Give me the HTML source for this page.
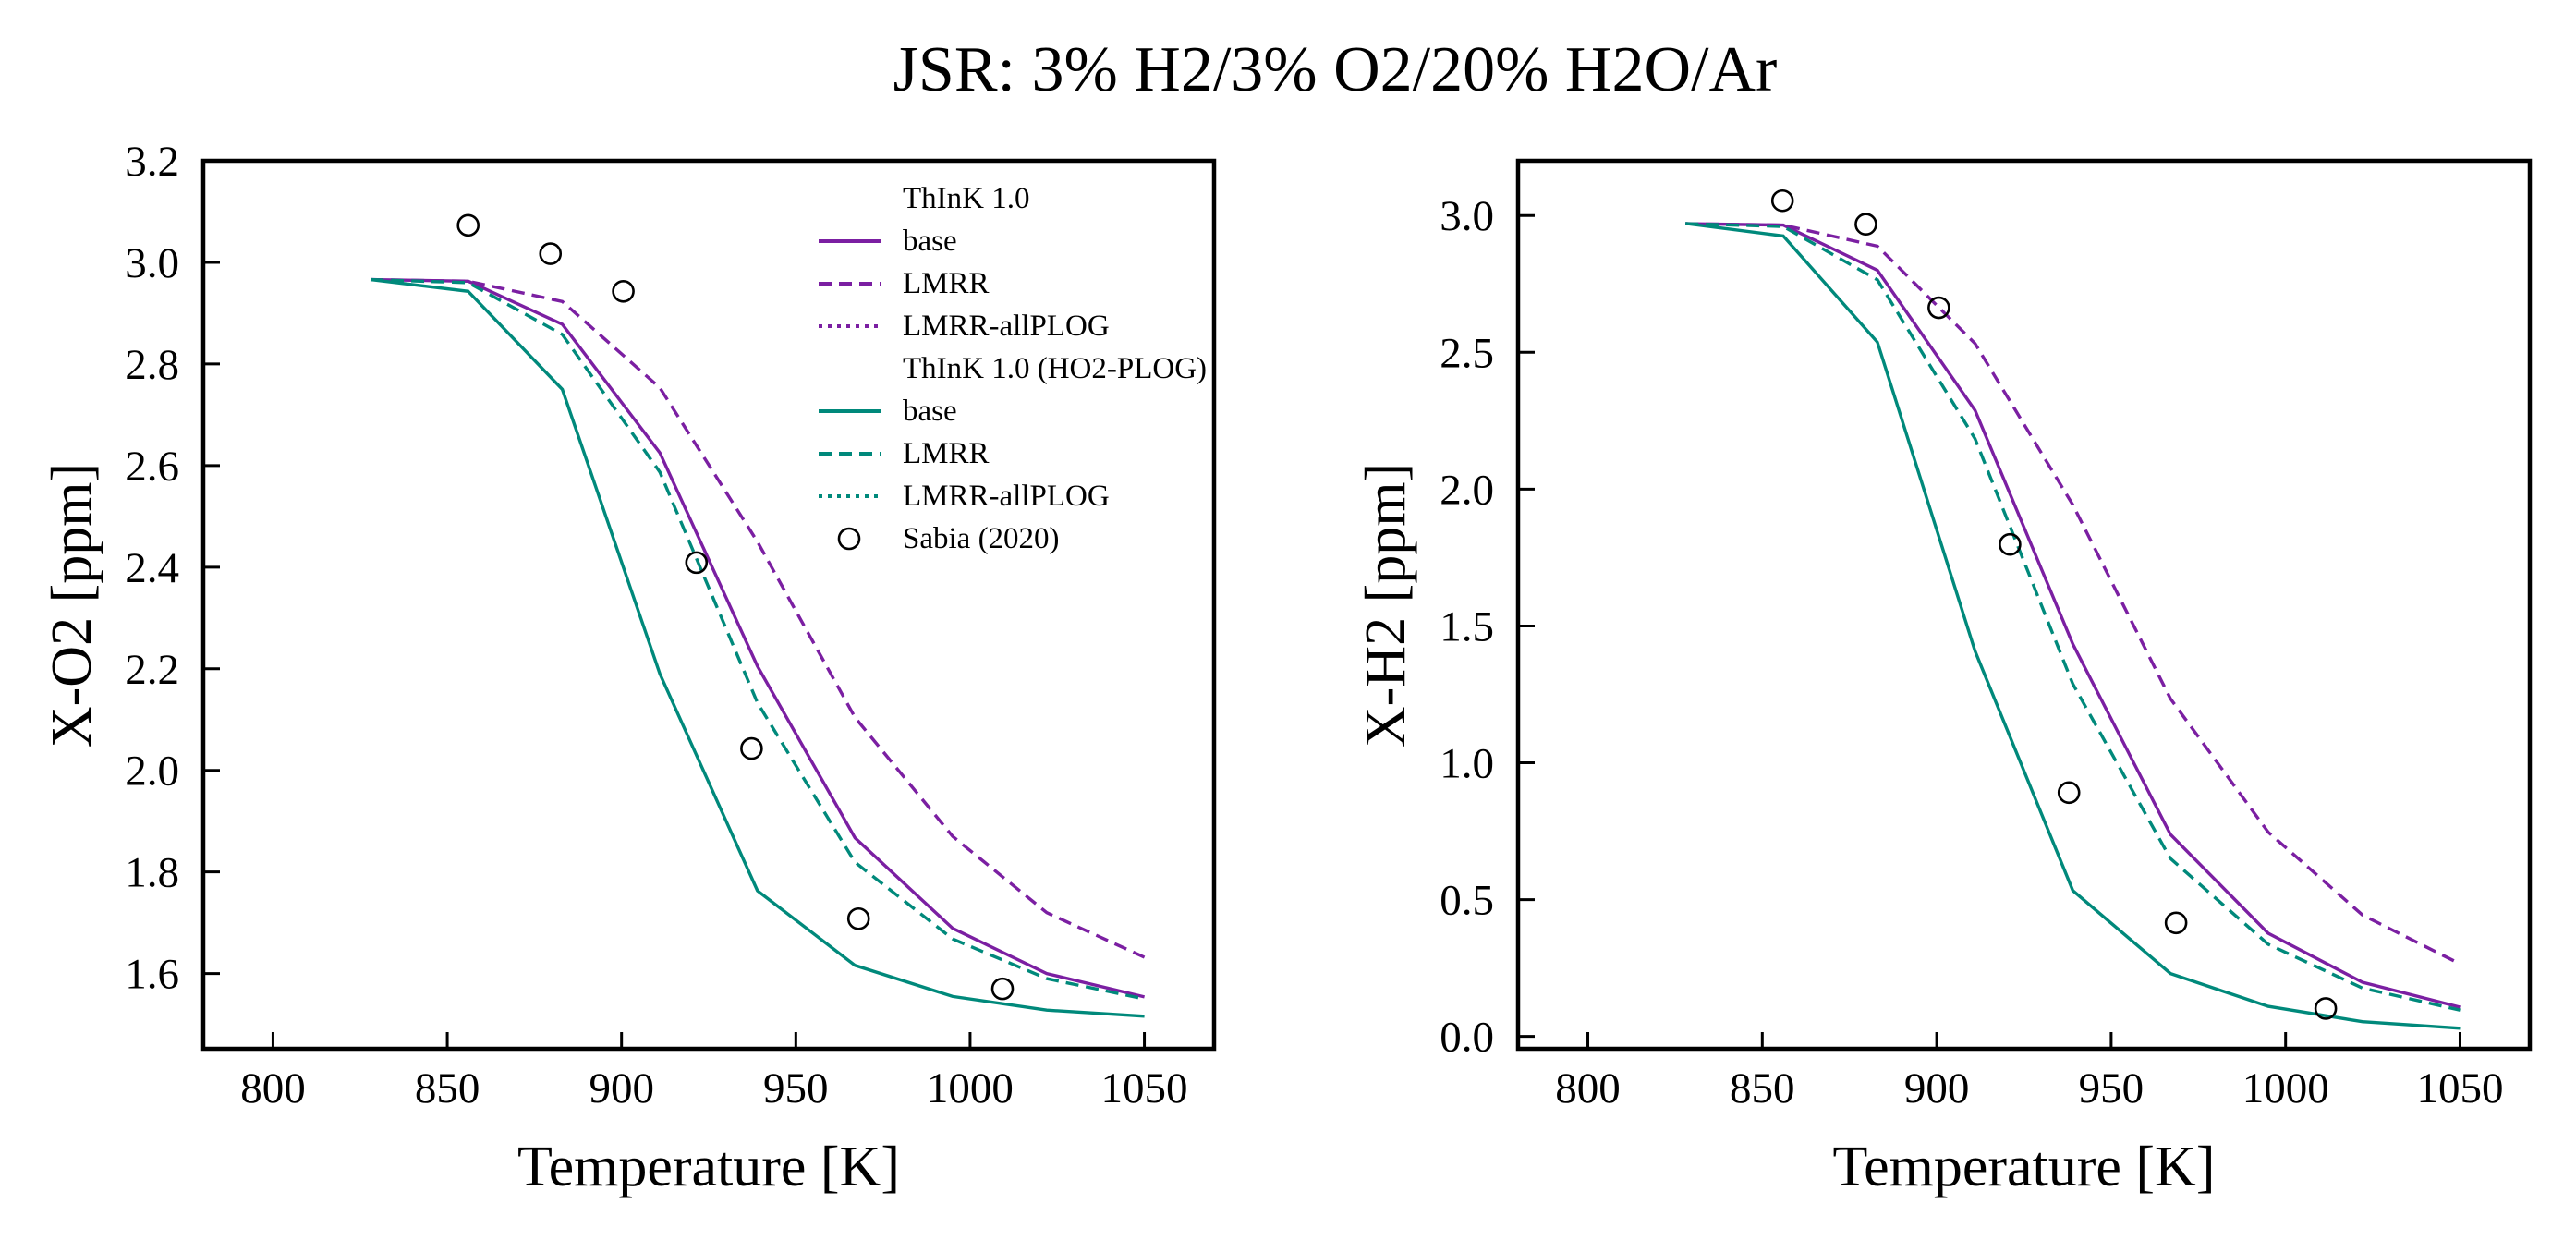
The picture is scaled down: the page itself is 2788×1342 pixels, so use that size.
<!DOCTYPE html>
<html><head><meta charset="utf-8"><style>
html,body{margin:0;padding:0;background:#fff}
svg{display:block;font-family:"Liberation Serif",serif}
</style></head><body>
<svg id="fig" width="2788" height="1342" viewBox="0 0 2788 1342" xmlns="http://www.w3.org/2000/svg">
<text x="1445" y="98" font-size="70" text-anchor="middle">JSR: 3% H2/3% O2/20% H2O/Ar</text>
</svg>
<script>
const temps = [828, 856, 883, 911, 939, 967, 995, 1022, 1050];
const o2Base = [2.966, 2.963, 2.878, 2.625, 2.205, 1.867, 1.689, 1.600, 1.554];
const o2Lmrr = [2.966, 2.963, 2.923, 2.753, 2.450, 2.104, 1.870, 1.720, 1.632];
const o2HoBase = [2.966, 2.943, 2.750, 2.190, 1.763, 1.616, 1.555, 1.528, 1.516];
const o2HoLmrr = [2.966, 2.960, 2.858, 2.587, 2.133, 1.819, 1.668, 1.590, 1.550];
const o2ExpT = [856, 879.6, 900.5, 921.5, 937.3, 968, 1009.3];
const o2Exp = [3.073, 3.017, 2.943, 2.409, 2.043, 1.708, 1.570];
const h2Base = [2.970, 2.965, 2.800, 2.288, 1.434, 0.738, 0.377, 0.198, 0.107];
const h2Lmrr = [2.970, 2.965, 2.888, 2.532, 1.943, 1.234, 0.747, 0.444, 0.265];
const h2HoBase = [2.971, 2.925, 2.537, 1.408, 0.533, 0.230, 0.110, 0.054, 0.030];
const h2HoLmrr = [2.970, 2.960, 2.765, 2.184, 1.288, 0.650, 0.337, 0.177, 0.096];
const h2ExpT = [855.8, 879.7, 900.6, 921, 937.9, 968.6, 1011.5];
const h2Exp = [3.054, 2.968, 2.663, 1.798, 0.891, 0.415, 0.102];
const xTicks = [800, 850, 900, 950, 1000, 1050];
const o2Ticks = [1.6, 1.8, 2.0, 2.2, 2.4, 2.6, 2.8, 3.0, 3.2];
const h2Ticks = [0.0, 0.5, 1.0, 1.5, 2.0, 2.5, 3.0];

const NS = "http://www.w3.org/2000/svg";
const svg = document.getElementById('fig');
const PURPLE = "#7B1FA2", TEAL = "#00897B";
function mk(tag, attrs, parent) {
  const e = document.createElementNS(NS, tag);
  for (const k in attrs) e.setAttribute(k, attrs[k]);
  (parent || svg).appendChild(e);
  return e;
}
function panel(cfg) {
  const g = mk('g', {});
  
  
  const L = cfg.left, R = cfg.right, T = 174, B = 1135;
  const xs = v => L + (v - 780) / (1070 - 780) * (R - L);
  const ys = v => B - (v - cfg.ymin) / (cfg.ymax - cfg.ymin) * (B - T);
  const clip = mk('clipPath', {id: cfg.name + '-clip'}, g);
  mk('rect', {x: L, y: T, width: R - L, height: B - T}, clip);
  const series = [
    [cfg.base, PURPLE, null, 'purple-base-line'],
    [cfg.lmrr, PURPLE, '14 8', 'purple-lmrr-line'],
    [cfg.hoBase, TEAL, null, 'teal-base-line'],
    [cfg.hoLmrr, TEAL, '14 8', 'teal-lmrr-line']
  ];
  series.forEach(s => {
    const pts = temps.map((t, i) => xs(t).toFixed(1) + ',' + ys(s[0][i]).toFixed(1)).join(' ');
    const a = {points: pts, fill: 'none', stroke: s[1], 'stroke-width': 3.4, 'clip-path': 'url(#' + cfg.name + '-clip)'};
    if (s[2]) a['stroke-dasharray'] = s[2];
    const p = mk('polyline', a, g);
    
    
  });
  cfg.expT.forEach((t, i) => {
    const c = mk('circle', {cx: xs(t), cy: ys(cfg.exp[i]), r: 11, fill: 'none', stroke: '#000', 'stroke-width': 2.6}, g);
    
    
  });
  const fr = mk('rect', {x: L, y: T, width: R - L, height: B - T, fill: 'none', stroke: '#000', 'stroke-width': 4.5}, g);
  
  
  xTicks.forEach(v => {
    const x = xs(v);
    mk('line', {x1: x, x2: x, y1: B, y2: B - 18, stroke: '#000', 'stroke-width': 3}, g);
    const t = mk('text', {x: x, y: B + 58, 'font-size': 47, 'text-anchor': 'middle'}, g);
    t.textContent = v;
    
    
  });
  cfg.ticks.forEach(v => {
    const y = ys(v);
    mk('line', {x1: L, x2: L + 18, y1: y, y2: y, stroke: '#000', 'stroke-width': 3}, g);
    const t = mk('text', {x: L - 26, y: y + 16, 'font-size': 47, 'text-anchor': 'end'}, g);
    t.textContent = v.toFixed(1);
    
    
  });
  const xl = mk('text', {x: (L + R) / 2, y: 1283, 'font-size': 62, 'text-anchor': 'middle'}, g);
  xl.textContent = 'Temperature [K]';
  
  
  const yl = mk('text', {x: 0, y: 0, 'font-size': 62, 'text-anchor': 'middle', transform: 'translate(' + cfg.ylx + ',655) rotate(-90)'}, g);
  yl.textContent = cfg.ylabel;
  
  
}
panel({name: 'o2-panel', left: 220, right: 1314, ymin: 1.452, ymax: 3.2, ticks: o2Ticks,
  base: o2Base, lmrr: o2Lmrr, hoBase: o2HoBase, hoLmrr: o2HoLmrr, expT: o2ExpT, exp: o2Exp, ylabel: 'X-O2 [ppm]', ylx: 98});
panel({name: 'h2-panel', left: 1643, right: 2738, ymin: -0.045, ymax: 3.2, ticks: h2Ticks,
  base: h2Base, lmrr: h2Lmrr, hoBase: h2HoBase, hoLmrr: h2HoLmrr, expT: h2ExpT, exp: h2Exp, ylabel: 'X-H2 [ppm]', ylx: 1520});

const legendLabels = ['ThInK 1.0', 'base', 'LMRR', 'LMRR-allPLOG', 'ThInK 1.0 (HO2-PLOG)', 'base', 'LMRR', 'LMRR-allPLOG', 'Sabia (2020)'];
const legendKinds = ['none', 'solid', 'dash', 'dot', 'none', 'solid', 'dash', 'dot', 'marker'];
const legendColors = ['', PURPLE, PURPLE, PURPLE, '', TEAL, TEAL, TEAL, '#000'];
const lg = mk('g', {});


legendLabels.forEach((lab, i) => {
  const by = 225 + i * 46;
  const e = mk('g', {}, lg);
  
  
  const k = legendKinds[i];
  if (k === 'solid' || k === 'dash' || k === 'dot') {
    const a = {x1: 886, x2: 953, y1: by - 10, y2: by - 10, stroke: legendColors[i], 'stroke-width': 4};
    if (k === 'dash') a['stroke-dasharray'] = '14 8';
    if (k === 'dot') a['stroke-dasharray'] = '4 6';
    mk('line', a, e);
  } else if (k === 'marker') {
    mk('circle', {cx: 919, cy: by - 10, r: 11, fill: 'none', stroke: '#000', 'stroke-width': 2.6}, e);
  }
  const t = mk('text', {x: 977, y: by, 'font-size': 33}, e);
  t.textContent = lab;
});
</script>
</body></html>
